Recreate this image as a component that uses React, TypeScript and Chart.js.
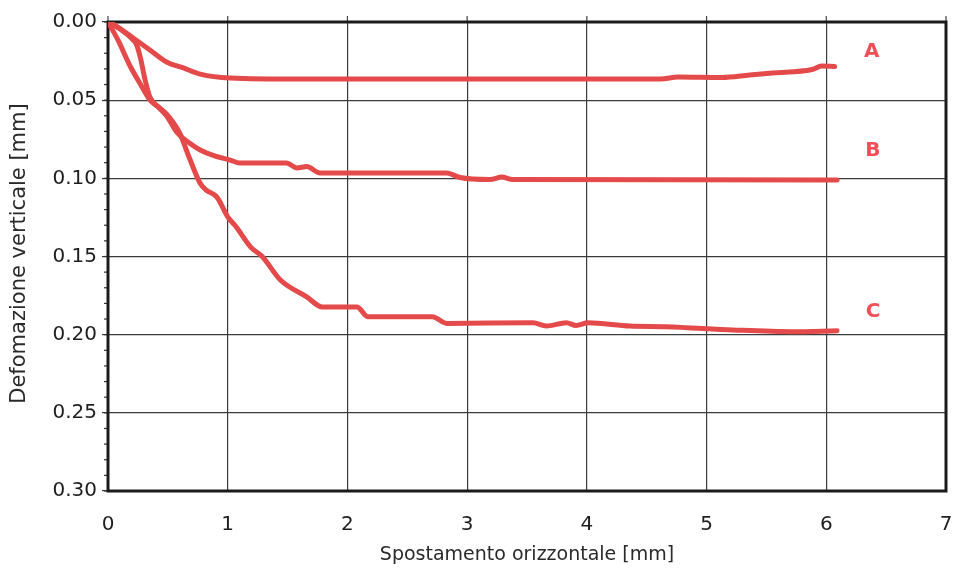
import { useEffect, useRef } from "react";
import { Chart, registerables } from "chart.js";

Chart.register(...registerables);

// Curve A
const curveAX = [0, 0.04, 0.21, 0.35, 0.49, 0.63, 0.77, 1.02, 1.6, 2.5, 3.5, 4.62, 4.76, 5.13, 5.36, 5.55, 5.88, 5.96, 6.07];
const curveAY = [0, 0.0013, 0.0102, 0.0179, 0.0256, 0.0294, 0.0333, 0.0358, 0.0365, 0.0365, 0.0365, 0.0365, 0.0352, 0.0355, 0.0339, 0.0326, 0.0304, 0.0282, 0.0285];

// Curve B
const curveBX = [0, 0.1, 0.21, 0.24, 0.275, 0.31, 0.35, 0.43, 0.49, 0.58, 0.68, 0.77, 0.89, 1.02, 1.1, 1.49, 1.58, 1.66, 1.77, 2.83, 2.94, 3.19, 3.29, 3.38, 6.09];
const curveBY = [0, 0.0045, 0.0115, 0.0147, 0.0243, 0.0371, 0.048, 0.055, 0.0601, 0.071, 0.0774, 0.0819, 0.0857, 0.0883, 0.0902, 0.0902, 0.0934, 0.0925, 0.0966, 0.0966, 0.0995, 0.1008, 0.0992, 0.1008, 0.1011];

// Curve C
const curveCX = [0, 0.083, 0.18, 0.27, 0.35, 0.42, 0.49, 0.6, 0.68, 0.77, 0.82, 0.91, 1.0, 1.07, 1.19, 1.29, 1.44, 1.66, 1.79, 2.08, 2.17, 2.71, 2.83, 3.55, 3.66, 3.83, 3.91, 4.01, 4.36, 4.66, 5.22, 5.72, 6.09];
const curveCY = [0, 0.0115, 0.0275, 0.0397, 0.0499, 0.0544, 0.0589, 0.0712, 0.087, 0.1032, 0.1075, 0.112, 0.1246, 0.131, 0.1438, 0.1502, 0.165, 0.1758, 0.1823, 0.1823, 0.1885, 0.1885, 0.1928, 0.1924, 0.1945, 0.1924, 0.1941, 0.1924, 0.1945, 0.1949, 0.197, 0.1981, 0.1975];

// Curve name tags and where they sit (data units)
const curveNames = ["A", "B", "C"];
const nameX = [6.38, 6.39, 6.39];
const nameY = [0.0192, 0.0825, 0.1855];

// Axes
const xTickValues = [0, 1, 2, 3, 4, 5, 6, 7];
const yTickValues = [0, 0.05, 0.1, 0.15, 0.2, 0.25, 0.3];
const yMinorStep = 0.01;
const xTitle = "Spostamento orizzontale [mm]";
const yTitle = "Defomazione verticale [mm]";

const FONT = '"DejaVu Sans", "Liberation Sans", Arial, sans-serif';
const RED = "#e54a4b";
const TAG_RED = "#ef5058";

const toPoints = (xs: number[], ys: number[]) => xs.map((x, i) => ({ x, y: ys[i] }));

const decorPlugin = {
  id: "decor",
  beforeDatasetsDraw(chart: any) {
    const { ctx, chartArea, scales } = chart;
    const { left, top, right, bottom } = chartArea;
    const y = scales.y;
    const x = scales.x;
    ctx.save();
    // minor ticks on the vertical axis
    ctx.strokeStyle = "#333";
    ctx.lineWidth = 1.2;
    const n = Math.round((yTickValues[yTickValues.length - 1] - yTickValues[0]) / yMinorStep);
    for (let i = 0; i <= n; i++) {
      const py = y.getPixelForValue(yTickValues[0] + i * yMinorStep);
      ctx.beginPath();
      ctx.moveTo(left - 4, py);
      ctx.lineTo(left, py);
      ctx.stroke();
    }
    // short stubs of the vertical grid above the frame
    ctx.strokeStyle = "#444";
    ctx.lineWidth = 1.2;
    xTickValues.forEach((v) => {
      const px = x.getPixelForValue(v);
      ctx.beginPath();
      ctx.moveTo(px, top - 6);
      ctx.lineTo(px, top);
      ctx.stroke();
    });
    // plot frame
    ctx.strokeStyle = "#1b1b1b";
    ctx.lineWidth = 3;
    ctx.strokeRect(left, top, right - left, bottom - top);
    ctx.restore();
  },
  afterDatasetsDraw(chart: any) {
    const { ctx, chartArea, scales } = chart;
    const { left, right, top, bottom } = chartArea;
    ctx.save();
    // curve tags
    ctx.fillStyle = TAG_RED;
    ctx.font = `bold 20px ${FONT}`;
    ctx.textAlign = "center";
    ctx.textBaseline = "middle";
    curveNames.forEach((name, i) => {
      ctx.fillText(name, scales.x.getPixelForValue(nameX[i]), scales.y.getPixelForValue(nameY[i]));
    });
    // axis titles
    ctx.fillStyle = "#2a2a2a";
    ctx.font = `19px ${FONT}`;
    ctx.fillText(xTitle, (left + right) / 2, 555);
    ctx.translate(20, (top + bottom) / 2 - 3);
    ctx.rotate(-Math.PI / 2);
    ctx.font = `21px ${FONT}`;
    ctx.fillText(yTitle, 0, 0);
    ctx.restore();
  },
};

export default function App() {
  const canvasRef = useRef<HTMLCanvasElement | null>(null);

  useEffect(() => {
    const canvas = canvasRef.current;
    if (!canvas) return;
    const lineStyle = {
      borderColor: RED,
      backgroundColor: RED,
      borderWidth: 5,
      pointRadius: 0,
      fill: false,
      cubicInterpolationMode: "monotone" as const,
      borderCapStyle: "round" as const,
      borderJoinStyle: "round" as const,
    };
    const chart = new Chart(canvas, {
      type: "line",
      data: {
        datasets: [
          { label: curveNames[0], data: toPoints(curveAX, curveAY), ...lineStyle },
          { label: curveNames[1], data: toPoints(curveBX, curveBY), ...lineStyle },
          { label: curveNames[2], data: toPoints(curveCX, curveCY), ...lineStyle },
        ],
      },
      options: {
        responsive: false,
        animation: false,
        devicePixelRatio: 1,
        layout: { padding: { top: 22, right: 8, left: 0, bottom: 0 } },
        plugins: { legend: { display: false }, tooltip: { enabled: false } },
        scales: {
          x: {
            type: "linear",
            min: xTickValues[0],
            max: xTickValues[xTickValues.length - 1],
            afterBuildTicks: (scale: any) => {
              scale.ticks = xTickValues.map((v) => ({ value: v }));
            },
            afterFit: (scale: any) => {
              scale.height = 77;
            },
            border: { display: false },
            grid: {
              color: "#3c3c3c",
              lineWidth: 1.2,
              drawTicks: true,
              tickLength: 22,
              tickColor: "rgba(0,0,0,0)",
            },
            ticks: {
              padding: 0,
              color: "#1e1e1e",
              font: { family: FONT, size: 20 },
              maxRotation: 0,
              callback: (v: any) => String(v),
            },
          },
          y: {
            type: "linear",
            reverse: true,
            min: yTickValues[0],
            max: yTickValues[yTickValues.length - 1],
            afterBuildTicks: (scale: any) => {
              scale.ticks = yTickValues.map((v) => ({ value: v }));
            },
            afterFit: (scale: any) => {
              scale.width = 108;
            },
            border: { display: false },
            grid: { color: "#3c3c3c", lineWidth: 1.2, drawTicks: true, tickLength: 6 },
            ticks: {
              padding: 5,
              color: "#1e1e1e",
              font: { family: FONT, size: 20 },
              callback: (v: any) => Number(v).toFixed(2),
            },
          },
        },
      },
      plugins: [decorPlugin],
    });
    return () => chart.destroy();
  }, []);

  return (
    <div style={{ position: "fixed", left: 0, top: 0, width: 954, height: 568, background: "#fff" }}>
      <canvas ref={canvasRef} width={954} height={568} style={{ display: "block" }} />
    </div>
  );
}
